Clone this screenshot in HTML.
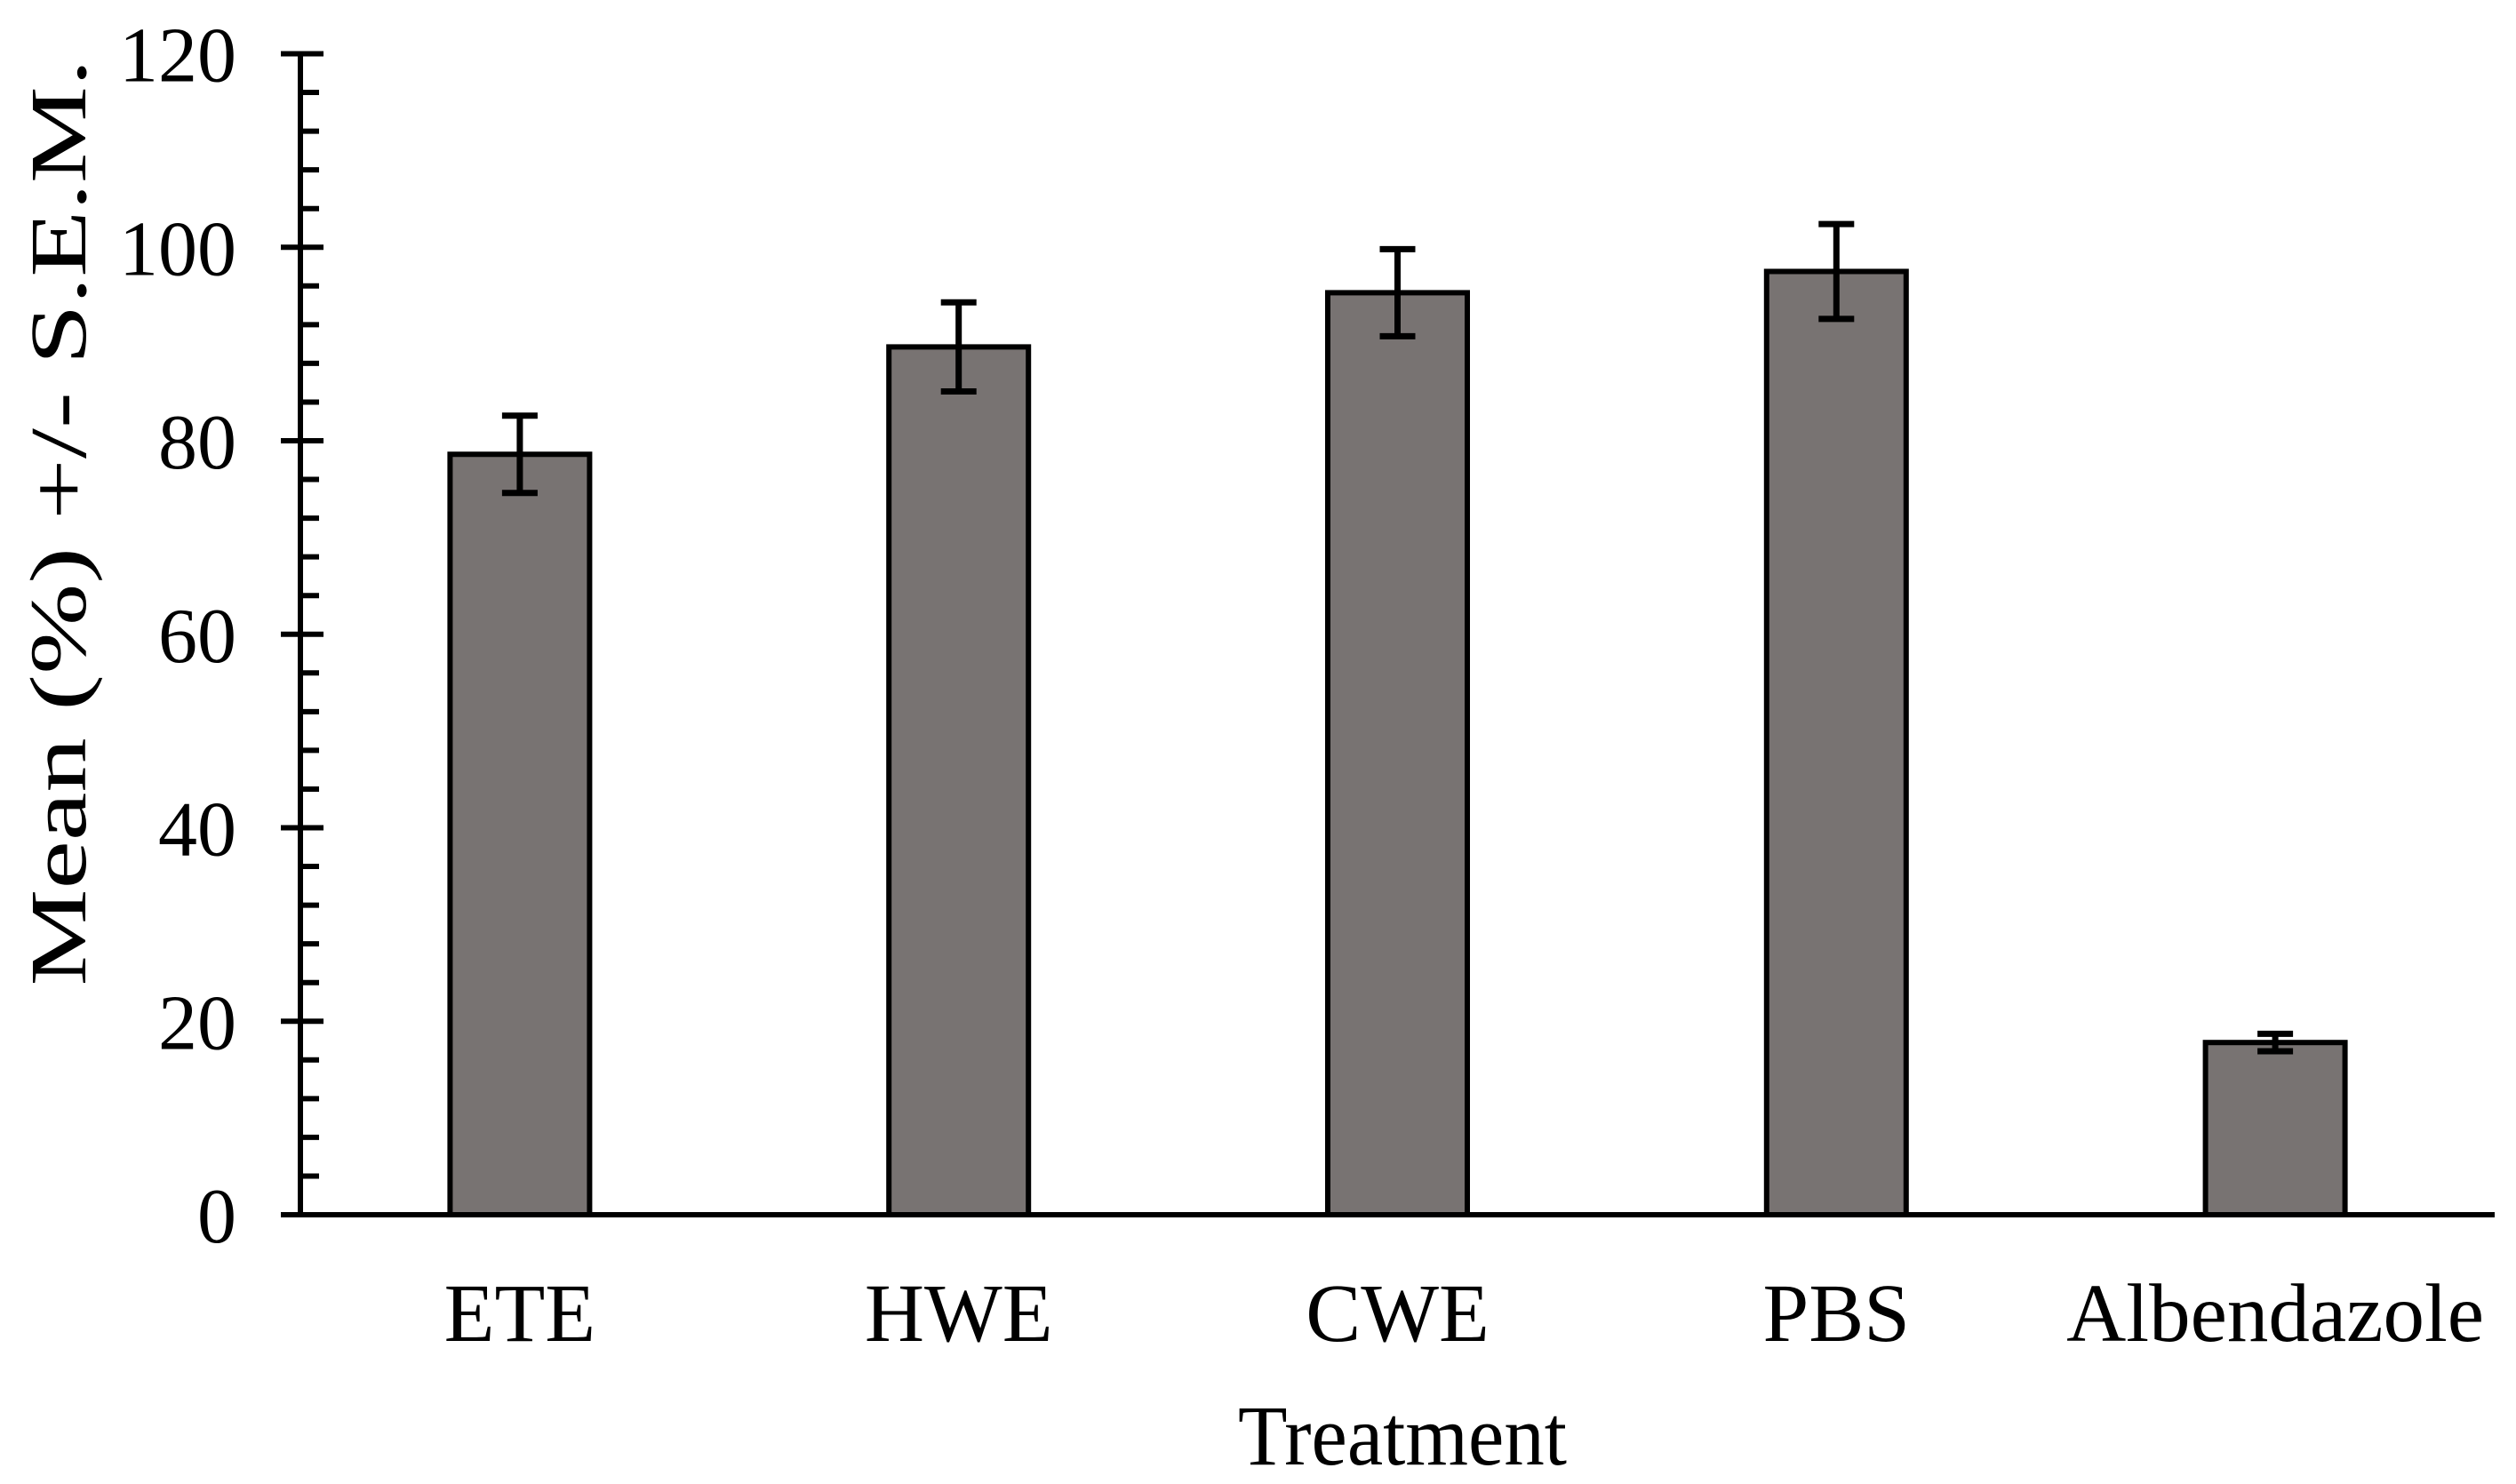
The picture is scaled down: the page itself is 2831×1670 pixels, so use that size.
<!DOCTYPE html>
<html><head><meta charset="utf-8"><style>
html,body{margin:0;padding:0;background:#fff;}
svg{display:block;font-family:"Liberation Serif","Times New Roman",serif;}
</style></head><body>
<svg id="chart" width="2831" height="1670" viewBox="0 0 2831 1670" xmlns="http://www.w3.org/2000/svg">
<g id="bars"></g>
<g id="axes"></g>
<text x="1578" y="1648" font-size="96" text-anchor="middle" textLength="370" lengthAdjust="spacingAndGlyphs">Treatment</text>
<text transform="translate(96,588) rotate(-90)" font-size="90" text-anchor="middle" textLength="1043" lengthAdjust="spacingAndGlyphs">Mean (%) +/- S.E.M.</text>
</svg>
<script>
const categories = ["ETE","HWE","CWE","PBS","Albendazole"];
const means = [78.6, 89.7, 95.3, 97.5, 17.8];
const sems = [4.0, 4.6, 4.5, 4.9, 0.9];
const yTicks = [0,20,40,60,80,100,120];

const NS="http://www.w3.org/2000/svg";
const x0=338, x1=2807, yTop=60.5, yBot=1367, yMax=120;
const y=v=>yBot-(v/yMax)*(yBot-yTop);
const band=(x1-x0)/categories.length;
const xc=i=>x0+band*(i+0.5);
const bw=157, cap=40;
function mk(tag,attrs,parent){const e=document.createElementNS(NS,tag);for(const k in attrs)e.setAttribute(k,attrs[k]);parent.appendChild(e);return e;}
const gb=document.getElementById('bars'), ga=document.getElementById('axes');
categories.forEach((c,i)=>{
  const r=mk('rect',{x:xc(i)-bw/2,y:y(means[i]),width:bw,height:yBot-y(means[i]),fill:'#787372',stroke:'#000','stroke-width':6},gb);
  
  
  const hi=y(means[i]+sems[i]), lo=y(means[i]-sems[i]);
  const eb=mk('path',{d:`M${xc(i)},${hi}V${lo}M${xc(i)-cap/2},${hi}H${xc(i)+cap/2}M${xc(i)-cap/2},${lo}H${xc(i)+cap/2}`,stroke:'#000','stroke-width':7,fill:'none'},gb);
  
  
  const t=mk('text',{x:xc(i),y:1509,'font-size':93,'text-anchor':'middle'},ga);
  t.textContent=c;
  
  
});
const ax=mk('path',{d:`M${x0},${yTop-3}V${yBot}M${x0-22},${yBot}H${x1}`,stroke:'#000','stroke-width':6,fill:'none'},ga);


for(let v=0;v<yMax;v+=4){
  if(v%20===0)continue;
  const m=mk('line',{x1:x0,x2:x0+21,y1:y(v),y2:y(v),stroke:'#000','stroke-width':6},ga);
  
  
}
yTicks.forEach(v=>{
  const l=mk('line',{x1:x0-22,x2:x0+26,y1:y(v),y2:y(v),stroke:'#000','stroke-width':6},ga);
  
  
  const t=mk('text',{x:266,y:y(v)+31,'font-size':88,'text-anchor':'end'},ga);
  t.textContent=v;
  
  
});
</script>
</body></html>
